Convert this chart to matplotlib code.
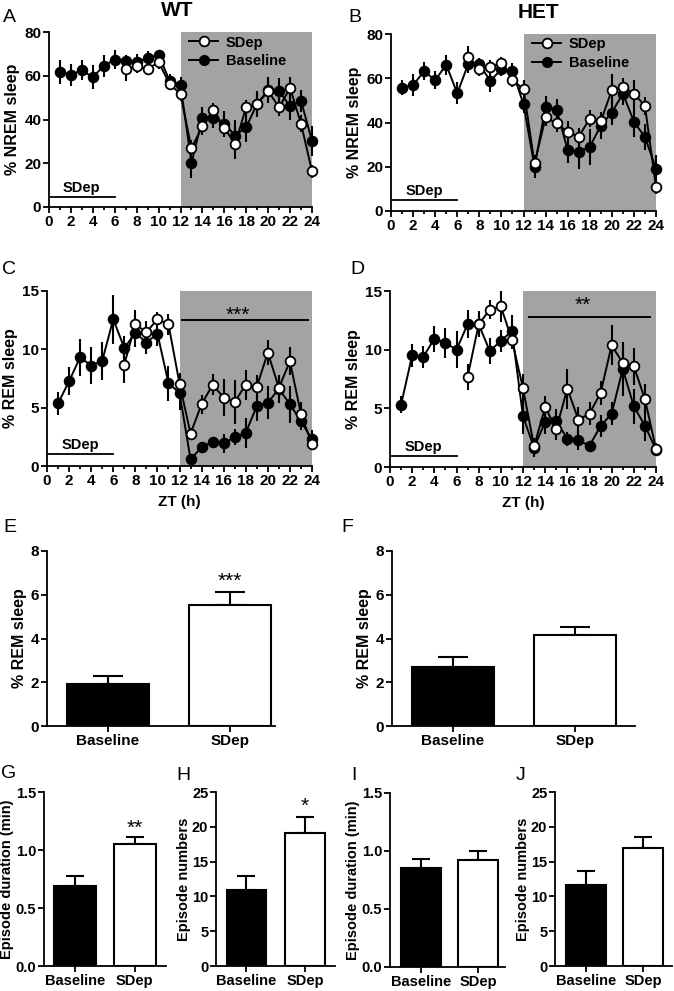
import numpy as np
import matplotlib
matplotlib.use("Agg")
import matplotlib.pyplot as plt
from matplotlib.lines import Line2D

nan = np.nan

# ---- data ----
hours = np.arange(1, 25)

# A: WT % NREM sleep
wt_nrem_base = [61.7, 60.5, 62.5, 59.3, 64.6, 67.4, 66.7, 66.1, 68.3, 69.5, 57.8, 55.9,
                20.1, 40.5, 40.5, 38.1, 32.6, 36.6, 47.2, 53.6, 53.0, 46.0, 48.5, 30.2]
wt_nrem_base_err = [5.3, 5.0, 4.5, 5.5, 5.0, 4.5, 3.0, 4.0, 3.0, 2.5, 3.0, 3.5,
                    7.0, 5.0, 4.5, 6.0, 7.0, 7.0, 6.0, 6.0, 6.0, 6.0, 5.0, 7.0]
wt_nrem_sdep = [nan] * 6 + [63.1, 64.3, 63.2, 66.1, 56.4, 51.5,
                            26.8, 37.0, 44.5, 36.0, 29.0, 45.7, 47.0, 53.0, 45.5, 54.4, 38.1, 16.3]
wt_nrem_sdep_err = [nan] * 6 + [5.5, 3.0, 3.0, 3.0, 3.0, 3.0,
                                4.0, 4.0, 3.0, 4.0, 7.0, 3.0, 5.0, 5.0, 4.0, 5.0, 4.0, 3.0]

# B: HET % NREM sleep
het_nrem_base = [55.8, 56.9, 63.2, 59.1, 66.1, 53.2, 66.5, 66.3, 58.8, 64.1, 63.4, 48.2,
                 20.0, 47.2, 45.8, 27.5, 26.8, 29.0, 38.6, 44.5, 53.1, 40.4, 33.4, 19.2]
het_nrem_base_err = [3.5, 5.0, 4.0, 4.0, 4.5, 5.0, 4.0, 3.0, 5.0, 3.0, 3.5, 4.0,
                     5.0, 5.0, 5.0, 6.0, 8.0, 8.0, 6.0, 5.5, 5.0, 7.0, 6.0, 6.0]
het_nrem_sdep = [nan] * 6 + [69.7, 64.1, 65.2, 66.8, 59.1, 55.2,
                             21.5, 42.3, 39.6, 35.7, 33.6, 41.8, 40.5, 54.7, 56.0, 53.1, 47.5, 10.7]
het_nrem_sdep_err = [nan] * 6 + [5.0, 3.0, 3.0, 3.0, 3.0, 4.0,
                                 4.0, 4.0, 4.0, 5.0, 4.0, 4.0, 4.0, 7.0, 4.0, 6.0, 4.0, 3.0]

# C: WT % REM sleep
wt_rem_base = [5.36, 7.27, 9.32, 8.61, 9.01, 12.58, 10.12, 11.41, 10.58, 11.35, 7.10, 6.27,
               0.57, 1.60, 2.08, 1.94, 2.48, 2.85, 5.13, 5.42, 6.62, 5.30, 3.82, 2.28]
wt_rem_base_err = [1.0, 1.2, 1.6, 1.6, 1.6, 2.1, 1.0, 1.2, 1.0, 1.1, 1.5, 1.5,
                   0.3, 0.3, 0.4, 0.8, 0.7, 1.3, 1.3, 1.4, 1.2, 1.6, 0.7, 0.8]
wt_rem_sdep = [nan] * 6 + [8.70, 12.15, 11.46, 12.58, 12.15, 7.07,
                           2.77, 5.30, 6.96, 5.87, 5.50, 6.96, 6.79, 9.72, 6.70, 8.98, 4.45, 1.88]
wt_rem_sdep_err = [nan] * 6 + [1.6, 1.2, 1.0, 0.6, 0.9, 0.9,
                               0.5, 0.8, 0.9, 1.6, 1.9, 1.3, 1.0, 1.1, 1.0, 1.2, 1.0, 0.5]

# D: HET % REM sleep
het_rem_base = [5.31, 9.52, 9.38, 10.94, 10.57, 10.00, 12.16, 12.16, 9.89, 10.74, 11.59, 4.32,
                1.65, 3.84, 3.92, 2.41, 2.27, 1.82, 3.49, 4.55, 8.35, 5.17, 3.52, 1.48]
het_rem_base_err = [0.7, 1.0, 0.9, 1.1, 1.3, 1.6, 1.2, 1.1, 1.1, 0.9, 1.4, 1.5,
                    0.8, 1.0, 1.0, 0.6, 0.8, 0.3, 0.9, 1.0, 2.3, 1.5, 1.3, 0.5]
het_rem_sdep = [nan] * 6 + [7.67, 12.16, 13.41, 13.69, 10.85, 6.70,
                            1.76, 5.11, 3.24, 6.68, 4.03, 4.55, 6.31, 10.37, 8.86, 8.58, 5.80, 1.53]
het_rem_sdep_err = [nan] * 6 + [1.1, 0.8, 0.8, 1.3, 0.8, 1.2,
                                0.5, 0.9, 0.9, 1.7, 1.1, 1.0, 1.0, 1.7, 1.2, 1.6, 1.3, 0.5]

# E-J: bar summaries [Baseline, SDep]
bar_labels = ["Baseline", "SDep"]
wt_rem_total = [1.92, 5.53]
wt_rem_total_err = [0.37, 0.58]
het_rem_total = [2.70, 4.16]
het_rem_total_err = [0.44, 0.38]
wt_ep_dur = [0.69, 1.055]
wt_ep_dur_err = [0.09, 0.055]
wt_ep_num = [10.9, 19.1]
wt_ep_num_err = [2.0, 2.3]
het_ep_dur = [0.856, 0.92]
het_ep_dur_err = [0.074, 0.08]
het_ep_num = [11.6, 17.0]
het_ep_num_err = [2.0, 1.5]

# ---- style ----
plt.rcParams.update({
    "font.family": ["Liberation Sans", "DejaVu Sans"],
    "font.weight": "bold",
    "axes.labelweight": "bold",
    "axes.linewidth": 1.3,
    "xtick.labelsize": 11,
    "ytick.labelsize": 11,
    "xtick.major.width": 1.3,
    "ytick.major.width": 1.3,
    "xtick.minor.width": 1.3,
    "xtick.major.size": 4,
    "ytick.major.size": 4,
    "xtick.minor.size": 2.5,
    "xtick.major.pad": 2,
    "ytick.major.pad": 1.5,
})

W, H = 674, 991
GRAY = "#a3a3a3"
fig = plt.figure(figsize=(W / 100, H / 100), dpi=100)


def px_axes(left, right, top, bottom):
    return fig.add_axes([left / W, 1 - bottom / H, (right - left) / W, (bottom - top) / H])


def px_text(x, y, s, **kw):
    fig.text(x / W, 1 - y / H, s, ha="center", va="center", **kw)


def clean(ax):
    ax.spines["top"].set_visible(False)
    ax.spines["right"].set_visible(False)


def time_course(ax, base, base_err, sdep, sdep_err, ymax, ystep, sdep_y, ylabel,
                legend=False, xlabel=None):
    ax.axvspan(12, 24, color=GRAY, lw=0, zorder=0)
    for vals, errs, face, z in [(base, base_err, "black", 3), (sdep, sdep_err, "white", 4)]:
        cont = ax.errorbar(hours, vals, yerr=errs, fmt="-o", color="black", mfc=face,
                           mec="black", ms=7, mew=1.3, lw=1.4, elinewidth=1.5,
                           capsize=0, zorder=z)
        for art in cont.get_children():
            art.set_clip_on(False)
    # sleep deprivation bar
    ax.plot([0, 6], [sdep_y, sdep_y], color="black", lw=1.3, zorder=2)
    ax.text(3, sdep_y + ymax * 0.012, "SDep", ha="center", va="bottom", fontsize=10.5)
    ax.set_xlim(0, 24)
    ax.set_ylim(0, ymax)
    ax.set_xticks(np.arange(0, 25, 2))
    ax.set_xticks(np.arange(0, 25, 1), minor=True)
    ax.set_yticks(np.arange(0, ymax + 0.1, ystep))
    ax.set_ylabel(ylabel, fontsize=11.5, labelpad=3)
    if xlabel:
        ax.set_xlabel(xlabel, fontsize=11, labelpad=5)
    clean(ax)
    if legend:
        handles = [
            Line2D([], [], color="black", marker="o", mfc="white", mec="black", ms=7, mew=1.3, lw=1.4),
            Line2D([], [], color="black", marker="o", mfc="black", mec="black", ms=7, lw=1.4),
        ]
        ax.legend(handles, ["SDep", "Baseline"], loc="upper left", bbox_to_anchor=(0.5, 1.03),
                  frameon=False, fontsize=10.5, handlelength=2.0, handletextpad=0.5,
                  labelspacing=0.3, borderaxespad=0.2)


def bar_panel(ax, vals, errs, ymax, yticks, xlim, width, capsize, ylabel, star=None,
              star_y=None, fmt=None, small=False):
    ax.bar([0, 1], vals, width, color=["black", "white"], edgecolor="black", lw=1.5, zorder=2)
    ax.errorbar([0, 1], vals, yerr=[[0, 0], errs], fmt="none", ecolor="black",
                elinewidth=1.5, capsize=capsize, capthick=1.5, zorder=1)
    ax.set_xlim(*xlim)
    ax.set_ylim(0, ymax)
    ax.set_yticks(yticks)
    if fmt:
        ax.set_yticklabels([fmt.format(t) for t in yticks])
    ax.set_xticks([0, 1])
    ax.set_xticklabels(bar_labels)
    if small:
        ax.tick_params(labelsize=10.5)
        ax.set_ylabel(ylabel, fontsize=10.5, labelpad=1)
    else:
        ax.set_ylabel(ylabel, fontsize=11.5, labelpad=3)
    if star:
        ax.text(1, star_y, star, ha="center", va="center", fontsize=15, fontweight="normal")
    clean(ax)


# ---- A / B: NREM ----
axA = px_axes(49, 312, 32, 207)
time_course(axA, wt_nrem_base, wt_nrem_base_err, wt_nrem_sdep, wt_nrem_sdep_err,
            80, 20, 4.7, "% NREM sleep", legend=True)
axB = px_axes(391, 656, 34, 211)
time_course(axB, het_nrem_base, het_nrem_base_err, het_nrem_sdep, het_nrem_sdep_err,
            80, 20, 5.0, "% NREM sleep", legend=True)

# ---- C / D: REM ----
axC = px_axes(47, 312, 291, 466)
time_course(axC, wt_rem_base, wt_rem_base_err, wt_rem_sdep, wt_rem_sdep_err,
            15, 5, 1.0, "% REM sleep", xlabel="ZT (h)")
axC.plot([12.2, 23.6], [12.5, 12.5], color="black", lw=1.4)
axC.text(17.3, 12.9, "***", ha="center", va="center", fontsize=15, fontweight="normal")

axD = px_axes(390, 656, 291, 467)
time_course(axD, het_rem_base, het_rem_base_err, het_rem_sdep, het_rem_sdep_err,
            15, 5, 0.9, "% REM sleep", xlabel="ZT (h)")
axD.plot([12.5, 23.5], [12.8, 12.8], color="black", lw=1.4)
axD.text(17.4, 13.8, "**", ha="center", va="center", fontsize=15, fontweight="normal")

# ---- E / F: total REM ----
axE = px_axes(47, 275, 551, 726)
bar_panel(axE, wt_rem_total, wt_rem_total_err, 8, [0, 2, 4, 6, 8], (-0.5, 1.37), 0.67, 11,
          "% REM sleep", star="***", star_y=6.6)
axF = px_axes(392, 635, 551, 726)
bar_panel(axF, het_rem_total, het_rem_total_err, 8, [0, 2, 4, 6, 8], (-0.5, 1.49), 0.67, 11,
          "% REM sleep")

# ---- G-J: episodes ----
axG = px_axes(44, 166, 792, 966)
bar_panel(axG, wt_ep_dur, wt_ep_dur_err, 1.5, [0, 0.5, 1.0, 1.5], (-0.53, 1.53), 0.71, 6.5,
          "Episode duration (min)", star="**", star_y=1.19, fmt="{:.1f}", small=True)
axH = px_axes(216, 335, 792, 966)
bar_panel(axH, wt_ep_num, wt_ep_num_err, 25, [0, 5, 10, 15, 20, 25], (-0.52, 1.51), 0.68, 6.5,
          "Episode numbers", star="*", star_y=23.0, small=True)
axI = px_axes(390, 505, 793, 967)
bar_panel(axI, het_ep_dur, het_ep_dur_err, 1.5, [0, 0.5, 1.0, 1.5], (-0.54, 1.47), 0.7, 6.5,
          "Episode duration (min)", fmt="{:.1f}", small=True)
axJ = px_axes(555, 672, 792, 966)
bar_panel(axJ, het_ep_num, het_ep_num_err, 25, [0, 5, 10, 15, 20, 25], (-0.55, 1.5), 0.7, 6.5,
          "Episode numbers", small=True)

# ---- titles and panel letters ----
px_text(177, 11, "WT", fontsize=15, fontweight="bold")
px_text(538, 12, "HET", fontsize=15, fontweight="bold")
for letter, x, y in [("A", 9, 18), ("B", 355, 18), ("C", 9, 269), ("D", 357, 269),
                     ("E", 10, 527), ("F", 347, 527), ("G", 9, 773), ("H", 183, 775),
                     ("I", 354, 775), ("J", 521, 775)]:
    px_text(x, y, letter, fontsize=14, fontweight="normal")

fig.savefig("out.png", dpi=100)
